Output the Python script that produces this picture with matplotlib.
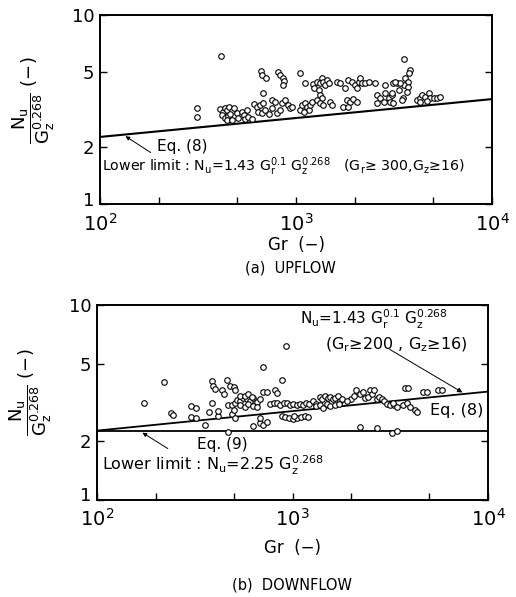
import matplotlib
matplotlib.use('Agg')
import matplotlib.pyplot as plt
import matplotlib.transforms as mtransforms
import numpy as np

plt.rcParams['font.family'] = 'DejaVu Sans'
plt.rcParams['mathtext.default'] = 'regular'

# (a) upflow: Gr and Nu/Gz^0.268
up_gr = [313, 313, 414, 410, 423, 434, 446, 456, 470, 479, 418, 434, 451, 443, 470, 461, 497, 506, 528, 542, 560, 549, 571, 594,
         660, 670, 702, 676,
         611, 631, 655, 681, 642, 670, 695, 723, 752, 752, 781, 795, 828, 842, 878, 913, 931, 949,
         804, 828, 855, 870, 861, 1047,
         1040, 1068, 1111, 1134, 1157, 1178, 1201, 1090,
         1111, 1216, 1236, 1274, 1300, 1324, 1350, 1378, 1405, 1433, 1462,
         1315, 1350, 1274, 1324, 1378, 1490, 1521,
         1612, 1675, 1777, 1846, 1920, 1999, 2040, 2080, 2120, 2160, 2248, 2340, 2529,
         1810, 1885, 1960, 2040, 1742, 1846,
         2580, 2682, 2580, 2790, 2844, 2960, 3017, 3076, 3135, 2844, 3135, 3263,
         3530, 3790, 3740, 3600, 3700, 3530, 3700, 3660, 3490, 3450, 3393, 3330,
         4140, 4290, 4370, 4550, 4730, 4830, 5020, 5220, 5430, 4290, 4640, 3200, 3076]
up_nu = [3.23, 2.90, 6.04, 3.17, 3.08, 3.21, 3.14, 3.27, 3.11, 3.21, 2.96, 2.87, 2.92, 2.78, 2.78, 2.99, 3.02, 2.87, 3.08, 2.96, 3.14, 2.82, 2.90, 2.81,
         5.06, 4.82, 4.63, 3.88,
         3.38, 3.27, 3.34, 3.41, 3.08, 3.02, 3.14, 2.99, 3.21, 3.55, 3.48, 3.04, 3.14, 3.41, 3.55, 3.34, 3.21, 3.27,
         5.02, 4.82, 4.63, 4.47, 4.27, 4.91,
         3.14, 3.34, 3.41, 3.27, 3.14, 3.34, 3.48, 3.08,
         4.39, 4.30, 4.09, 4.44, 4.01, 4.35, 4.63, 4.44, 4.27, 4.53, 4.35,
         3.77, 3.62, 3.55, 3.41, 3.34, 3.48, 3.34,
         4.44, 4.35, 4.09, 4.53, 4.44, 4.27, 4.09, 4.44, 4.63, 4.35, 4.39, 4.44, 4.39,
         3.55, 3.48, 3.58, 3.48, 3.27, 3.27,
         3.77, 3.62, 3.41, 3.48, 3.85, 3.62, 3.48, 3.77, 3.41, 4.27, 4.39, 4.35,
         5.82, 5.12, 4.91, 4.63, 4.44, 4.27, 4.18, 3.93, 3.62, 3.55, 4.35, 4.01,
         3.55, 3.62, 3.77, 3.70, 3.85, 3.62, 3.64, 3.62, 3.70, 3.48, 3.50, 4.44, 3.85]

# (b) downflow
down_gr = [173, 221, 239, 246, 303, 321, 303, 321, 357, 372, 387, 387, 394, 402, 418, 418, 435, 447, 461, 470,
           479, 499, 508, 470, 489, 508, 489, 508, 499,
           519, 540, 560, 582, 607, 630, 655, 682,
           540, 572, 595, 631, 659, 540, 572, 595, 620,
           631, 682, 710, 738, 710, 738, 710, 682, 814, 830, 881, 927,
           770, 800, 830, 865, 900, 935, 970, 1010, 1050, 1090, 1130, 1175, 1220, 1270, 1320,
           885, 920, 960, 1000, 1050, 1020, 1100, 1160, 1200,
           1380, 1420, 1470, 1520, 1560, 1610, 1650, 1700, 1750, 1800,
           1320, 1380, 1430, 1500, 1560, 1640, 1730,
           2120, 2200, 2280, 2350, 2420, 2480, 2550, 2620, 2700, 2780, 2850,
           2000, 2060, 1900, 2950, 3050, 3150, 3300, 3400, 3250,
           2213, 2692, 3211, 3404,
           3681, 3831, 3985, 3750, 3900, 4224, 4308, 4656, 4845, 5555, 5778]
down_nu = [3.13, 4.03, 2.79, 2.74, 3.02, 2.96, 2.65, 2.62, 2.42, 2.83, 3.13, 4.05, 3.84, 3.70, 2.68, 2.84, 3.66, 3.50, 4.10, 2.22,
           3.84, 3.80, 3.66, 3.07, 3.07, 3.13, 2.76, 2.63, 2.88,
           3.26, 3.22, 3.34, 3.28, 3.22, 3.34, 3.18, 3.28,
           3.05, 3.00, 3.10, 3.02, 2.98, 3.40, 3.42, 3.48, 3.38,
           2.40, 2.48, 2.42, 2.50, 3.58, 3.58, 4.80, 2.63, 3.66, 3.52, 4.12, 6.16,
           3.10, 3.13, 3.15, 3.08, 3.13, 3.15, 3.08, 3.12, 3.07, 3.12, 3.08, 3.15, 3.10, 3.20, 3.12,
           2.70, 2.65, 2.62, 2.60, 2.62, 2.70, 2.66, 2.70, 2.66,
           3.38, 3.28, 3.40, 3.34, 3.38, 3.28, 3.34, 3.40, 3.22, 3.28,
           3.02, 3.07, 2.95, 3.10, 3.02, 3.07, 3.12,
           3.66, 3.50, 3.58, 3.34, 3.38, 3.66, 3.50, 3.66, 3.28, 3.38, 3.28,
           3.30, 3.40, 3.22, 3.20, 3.12, 3.08, 3.05, 3.00, 3.15,
           2.37, 2.33, 2.21, 2.25,
           3.07, 3.13, 2.98, 3.75, 3.73, 2.89, 2.81, 3.58, 3.58, 3.66, 3.66]

x_ticks = [1e2, 1e3, 1e4]
x_labels = ['$10^2$', '$10^3$', '$10^4$']
y_ticks = [1, 2, 5, 10]
y_labels = ['1', '2', '5', '10']

# Eq.(8) and Eq.(9)
gr_line = np.logspace(2, 4, 50)
eq8 = 1.43 * gr_line ** 0.1
eq9 = np.full_like(gr_line, 2.25)


def style(ax):
    ax.set_xscale('log')
    ax.set_yscale('log')
    ax.set_xlim(1e2, 1e4)
    ax.set_ylim(1, 10)
    ax.set_xticks(x_ticks)
    ax.set_xticklabels(x_labels, fontsize=14)
    ax.set_xticks([200, 500, 2000, 5000], minor=True)
    ax.set_xticklabels([], minor=True)
    ax.set_yticks(y_ticks)
    ax.set_yticklabels(y_labels, fontsize=13)
    ax.set_yticks([], minor=True)
    ax.tick_params(which='both', direction='in', right=True, width=1.0, length=5)
    ax.tick_params(axis='x', which='major', pad=6)
    ax.tick_params(axis='y', which='major', pad=4)
    # lift the "1" label a little, as in the original
    lab = ax.get_yticklabels()[0]
    lab.set_transform(lab.get_transform() +
                      mtransforms.ScaledTranslation(0, 4 / 72, ax.figure.dpi_scale_trans))
    for s in ax.spines.values():
        s.set_linewidth(1.4)
    ax.set_ylabel(r'$\dfrac{N_u}{G_z^{0.268}}$ (−)', fontsize=13)
    ax.yaxis.set_label_coords(-0.11, 0.55)
    ax.set_xlabel('Gr  (−)', fontsize=12)


fig = plt.figure(figsize=(5.16, 5.97), dpi=100)
ax1 = fig.add_axes([0.194, 0.658, 0.760, 0.317])
ax2 = fig.add_axes([0.188, 0.1625, 0.758, 0.327])

# (a) upflow
style(ax1)
ax1.xaxis.set_label_coords(0.5, -0.17)
ax1.scatter(up_gr, up_nu, s=16, facecolors='white', edgecolors='black', linewidths=0.8, zorder=3)
ax1.plot(gr_line, eq8, color='black', lw=1.5)
ax1.text(0.145, 0.307, 'Eq. (8)', transform=ax1.transAxes, fontsize=11, va='center')
ax1.annotate('', xy=(131, 1.43 * 131 ** 0.1), xytext=(0.135, 0.265), textcoords='axes fraction',
             arrowprops=dict(arrowstyle='-|>', lw=0.7, color='black', mutation_scale=6))
ax1.text(0.005, 0.196,
         r'Lower limit : N$_u$=1.43 G$_r^{0.1}$ G$_z^{0.268}$   (G$_r$≥ 300,G$_z$≥16)',
         transform=ax1.transAxes, fontsize=10.2, va='center')

# (b) downflow
style(ax2)
ax2.xaxis.set_label_coords(0.5, -0.2)
ax2.scatter(down_gr, down_nu, s=16, facecolors='white', edgecolors='black', linewidths=0.8, zorder=3)
ax2.plot(gr_line, eq8, color='black', lw=1.3)
ax2.plot(gr_line, eq9, color='black', lw=1.3)
ax2.text(0.519, 0.923, r'N$_u$=1.43 G$_r^{0.1}$ G$_z^{0.268}$', transform=ax2.transAxes,
         fontsize=11, va='center')
ax2.text(0.583, 0.795, r'(G$_r$≥200 , G$_z$≥16)', transform=ax2.transAxes, fontsize=11.5, va='center')
ax2.annotate('', xy=(7600, 1.43 * 7600 ** 0.1), xytext=(0.742, 0.779), textcoords='axes fraction',
             arrowprops=dict(arrowstyle='-|>', lw=0.7, color='black', mutation_scale=7))
ax2.text(0.852, 0.456, 'Eq. (8)', transform=ax2.transAxes, fontsize=11.5, va='center')
ax2.text(0.256, 0.282, 'Eq. (9)', transform=ax2.transAxes, fontsize=11, va='center')
ax2.annotate('', xy=(166, 2.25), xytext=(0.187, 0.256), textcoords='axes fraction',
             arrowprops=dict(arrowstyle='-|>', lw=0.7, color='black', mutation_scale=6))
ax2.text(0.013, 0.179, r'Lower limit : N$_u$=2.25 G$_z^{0.268}$', transform=ax2.transAxes,
         fontsize=11.5, va='center')

fig.text(0.562, 1 - 268 / 597, '(a)  UPFLOW', fontsize=10.5, ha='center', va='center')
fig.text(0.566, 1 - 585 / 597, '(b)  DOWNFLOW', fontsize=10.5, ha='center', va='center')

fig.savefig('out.png', dpi=100)
